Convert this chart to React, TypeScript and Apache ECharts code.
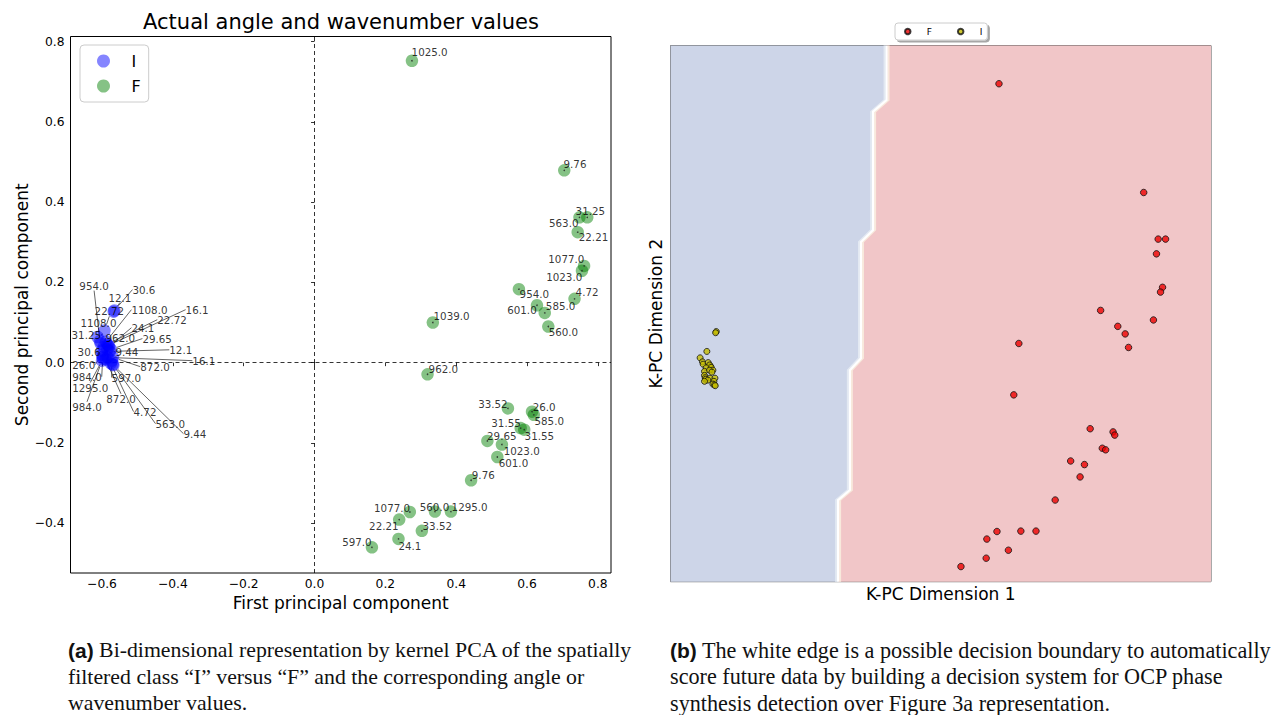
import React, { useEffect, useRef } from 'react';
import * as echarts from 'echarts';

// ---------- axis ticks / ranges ----------
const xTickValues = [-0.6, -0.4, -0.2, 0, 0.2, 0.4, 0.6, 0.8];
const yTickValues = [-0.4, -0.2, 0, 0.2, 0.4, 0.6, 0.8];
const leftXRange = [-0.689, 0.837];
const leftYRange = [-0.524, 0.8125];
const rightXRange = [-0.701, 0.905];
const rightYRange = [-0.498, 0.848];

// ---------- class "I" (angle / wavenumber labels) ----------
const iNames = ['30.6', '12.1', '22.72', '31.25', '954.0', '1108.0', '1108.0', '16.1', '22.72', '24.1', '962.0', '29.65', '30.6', '9.44', '12.1', '16.1', '872.0', '26.0', '984.0', '597.0', '1295.0', '872.0', '984.0', '4.72', '563.0', '9.44'];
const iX = [-0.565, -0.567, -0.593, -0.613, -0.606, -0.604, -0.589, -0.582, -0.585, -0.580, -0.595, -0.575, -0.600, -0.585, -0.578, -0.584, -0.569, -0.600, -0.598, -0.572, -0.597, -0.590, -0.600, -0.575, -0.570, -0.568];
const iY = [0.130, 0.127, 0.080, 0.064, 0.054, 0.048, 0.052, 0.043, 0.046, 0.040, 0.039, 0.033, 0.030, 0.033, 0.028, 0.013, 0.013, 0.020, 0.014, 0.005, 0.010, 0.008, 0.005, -0.002, -0.004, -0.006];
const iLabelX = [-0.514, -0.582, -0.621, -0.686, -0.664, -0.661, -0.517, -0.364, -0.444, -0.517, -0.590, -0.486, -0.669, -0.562, -0.410, -0.345, -0.492, -0.684, -0.684, -0.573, -0.684, -0.588, -0.684, -0.511, -0.449, -0.370];
const iLabelY = [0.182, 0.162, 0.128, 0.069, 0.192, 0.099, 0.132, 0.132, 0.107, 0.087, 0.062, 0.060, 0.027, 0.027, 0.032, 0.005, -0.010, -0.005, -0.035, -0.037, -0.062, -0.090, -0.110, -0.122, -0.152, -0.177];

// ---------- class "F" ----------
const fNames = ['1025.0', '9.76', '563.0', '31.25', '22.21', '1077.0', '1023.0', '954.0', '4.72', '601.0', '585.0', '560.0', '1039.0', '962.0', '33.52', '26.0', '585.0', '31.55', '31.55', '29.65', '1023.0', '601.0', '9.76', '1077.0', '560.0', '1295.0', '22.21', '33.52', '24.1', '597.0'];
const fX = [0.275, 0.705, 0.748, 0.770, 0.743, 0.761, 0.755, 0.577, 0.734, 0.628, 0.650, 0.660, 0.334, 0.319, 0.546, 0.614, 0.619, 0.582, 0.592, 0.488, 0.529, 0.516, 0.442, 0.269, 0.340, 0.385, 0.239, 0.303, 0.237, 0.162];
const fY = [0.752, 0.479, 0.362, 0.362, 0.325, 0.241, 0.229, 0.183, 0.159, 0.143, 0.124, 0.090, 0.100, -0.029, -0.114, -0.122, -0.130, -0.163, -0.167, -0.195, -0.204, -0.235, -0.293, -0.372, -0.371, -0.371, -0.391, -0.419, -0.439, -0.460];
const fLabelX = [0.274, 0.703, 0.662, 0.737, 0.746, 0.660, 0.654, 0.579, 0.737, 0.544, 0.653, 0.661, 0.336, 0.322, 0.462, 0.616, 0.621, 0.499, 0.593, 0.487, 0.534, 0.520, 0.444, 0.168, 0.297, 0.387, 0.154, 0.305, 0.237, 0.078];
const fLabelY = [0.773, 0.496, 0.349, 0.379, 0.312, 0.257, 0.214, 0.170, 0.175, 0.130, 0.140, 0.077, 0.115, -0.015, -0.102, -0.110, -0.145, -0.150, -0.182, -0.182, -0.219, -0.249, -0.279, -0.362, -0.359, -0.359, -0.406, -0.406, -0.456, -0.446];

// ---------- decision boundary (right panel) ----------
const boundaryX = [-0.059, -0.059, -0.099, -0.099, -0.135, -0.135, -0.168, -0.168, -0.203, -0.203];
const boundaryY = [0.848, 0.711, 0.682, 0.385, 0.355, 0.063, 0.033, -0.268, -0.293, -0.498];

// ---------- texts ----------
const titleText = 'Actual angle and wavenumber values';
const captionA = [
  '{b|(a)} Bi-dimensional representation by kernel PCA of the spatially',
  'filtered class \u201cI\u201d versus \u201cF\u201d and the corresponding angle or',
  'wavenumber values.',
];
const captionB = [
  '{b|(b)} The white edge is a possible decision boundary to automatically',
  'score future data by building a decision system for OCP phase',
  'synthesis detection over Figure 3a representation.',
];

const SANS = 'DejaVu Sans';

export default function App() {
  const ref = useRef<HTMLDivElement>(null);

  useEffect(() => {
    if (!ref.current) return;
    const chart = echarts.init(ref.current, null, { renderer: 'svg' });

    const toPx = (x: number, y: number) =>
      chart.convertToPixel({ gridIndex: 0 }, [x, y]) as number[];
    const fmt = (v: number) =>
      Math.abs(v) < 1e-9 ? '0.0' : v.toFixed(1).replace('-', '\u2212');

    const iData = iX.map((x, i) => [x, iY[i]]);
    const fData = fX.map((x, i) => [x, fY[i]]);

    const pointLabel = {
      show: true,
      fontFamily: SANS,
      fontSize: 10.3,
      color: '#000',
    };

    const captionGraphics: any[] = [];
    const capStyle = (text: string, x: number, y: number, size: number) => ({
      type: 'text',
      x,
      y,
      style: {
        text,
        fontFamily: 'Liberation Serif',
        fontSize: size,
        fill: '#111',
        verticalAlign: 'middle',
        rich: {
          b: {
            fontFamily: 'Liberation Sans',
            fontWeight: 'bold',
            fontSize: 21,
            fill: '#111',
          },
        },
      },
    });
    captionA.forEach((t, k) => captionGraphics.push(capStyle(t, 68, 650 + k * 26.5, 21.8)));
    captionB.forEach((t, k) => captionGraphics.push(capStyle(t, 670, 650 + k * 26.5, 22.2)));

    const option: any = {
      animation: false,
      backgroundColor: '#fff',
      grid: [
        {
          left: 70.5,
          top: 36.5,
          width: 540.5,
          height: 536.5,
          show: true,
          borderColor: '#000',
          borderWidth: 1,
          backgroundColor: '#fff',
        },
        {
          left: 670.5,
          top: 45.5,
          width: 540.5,
          height: 536.2,
          show: true,
          borderColor: '#555',
          borderWidth: 1,
        },
      ],
      xAxis: [
        {
          gridIndex: 0,
          type: 'value',
          min: leftXRange[0],
          max: leftXRange[1],
          name: 'First principal component',
          nameLocation: 'middle',
          nameGap: 20,
          nameTextStyle: { fontFamily: SANS, fontSize: 17, color: '#000' },
          axisLine: { show: false },
          splitLine: { show: false },
          axisTick: {
            show: true,
            customValues: xTickValues,
            length: 3.5,
            lineStyle: { color: '#000', width: 0.8 },
          },
          axisLabel: {
            customValues: xTickValues,
            formatter: fmt,
            fontFamily: SANS,
            fontSize: 12.3,
            color: '#000',
            margin: 5,
          },
        },
        {
          gridIndex: 1,
          type: 'value',
          min: rightXRange[0],
          max: rightXRange[1],
          name: 'K-PC Dimension 1',
          nameLocation: 'middle',
          nameGap: 4,
          nameTextStyle: { fontFamily: SANS, fontSize: 17, color: '#000', verticalAlign: 'top' },
          axisLine: { show: false },
          axisTick: { show: false },
          axisLabel: { show: false },
          splitLine: { show: false },
        },
      ],
      yAxis: [
        {
          gridIndex: 0,
          type: 'value',
          min: leftYRange[0],
          max: leftYRange[1],
          name: 'Second principal component',
          nameLocation: 'middle',
          nameGap: 35,
          nameTextStyle: { fontFamily: SANS, fontSize: 17, color: '#000' },
          axisLine: { show: false },
          splitLine: { show: false },
          axisTick: {
            show: true,
            customValues: yTickValues,
            length: 3.5,
            lineStyle: { color: '#000', width: 0.8 },
          },
          axisLabel: {
            customValues: yTickValues,
            formatter: fmt,
            fontFamily: SANS,
            fontSize: 12.3,
            color: '#000',
            margin: 6,
          },
        },
        {
          gridIndex: 1,
          type: 'value',
          min: rightYRange[0],
          max: rightYRange[1],
          name: 'K-PC Dimension 2',
          nameLocation: 'middle',
          nameGap: 6,
          nameTextStyle: { fontFamily: SANS, fontSize: 17, color: '#000' },
          axisLine: { show: false },
          axisTick: { show: false },
          axisLabel: { show: false },
          splitLine: { show: false },
        },
      ],
      legend: [
        {
          data: ['I', 'F'],
          left: 80,
          top: 45,
          orient: 'vertical',
          icon: 'circle',
          itemWidth: 40,
          itemHeight: 13,
          itemGap: 9,
          padding: [8, 8, 8, 17],
          borderColor: '#ccc',
          borderWidth: 1,
          borderRadius: 4,
          backgroundColor: 'rgba(255,255,255,0.85)',
          selectedMode: false,
          textStyle: { fontFamily: SANS, fontSize: 16, color: '#000', padding: [0, 0, 0, 3] },
        },
        {
          data: ['F (b)', 'I (b)'],
          formatter: (n: string) => n.charAt(0),
          left: 895,
          top: 23,
          orient: 'horizontal',
          icon: 'circle',
          itemWidth: 14,
          itemHeight: 5.5,
          itemGap: 25,
          padding: [4, 5, 4, 9],
          borderColor: '#ccc',
          borderWidth: 1,
          borderRadius: 3,
          backgroundColor: '#fff',
          shadowColor: 'rgba(0,0,0,0.35)',
          shadowBlur: 0,
          shadowOffsetX: 2,
          shadowOffsetY: 2,
          selectedMode: false,
          textStyle: { fontFamily: SANS, fontSize: 9, color: '#000', padding: [0, 0, 0, 7] },
        },
      ],
      graphic: [
        {
          type: 'text',
          x: 341,
          y: 22,
          style: {
            text: titleText,
            fontFamily: SANS,
            fontSize: 21,
            fill: '#000',
            align: 'center',
            verticalAlign: 'middle',
          },
        },
        ...captionGraphics,
      ],
      series: [
        {
          type: 'custom',
          name: 'regions',
          xAxisIndex: 1,
          yAxisIndex: 1,
          silent: true,
          z: 1,
          data: [[0, 0]],
          renderItem: (_p: any, api: any) => {
            const edge = boundaryX.map((x, i) => api.coord([x, boundaryY[i]]));
            const tl = api.coord([rightXRange[0], rightYRange[1]]);
            const bl = api.coord([rightXRange[0], rightYRange[0]]);
            const br = api.coord([rightXRange[1], rightYRange[0]]);
            const tr = api.coord([rightXRange[1], rightYRange[1]]);
            const shift = (d: number) => edge.map((p: number[]) => [p[0] + d, p[1]]);
            return {
              type: 'group',
              children: [
                { type: 'polygon', shape: { points: [tl, ...edge, bl] }, style: { fill: '#cdd5e8' } },
                { type: 'polygon', shape: { points: [...edge, br, tr] }, style: { fill: '#f1c6c8' } },
                { type: 'polyline', shape: { points: shift(-2) }, style: { stroke: '#e3e9f2', lineWidth: 2, fill: null } },
                { type: 'polyline', shape: { points: shift(2) }, style: { stroke: '#f8e9dc', lineWidth: 2, fill: null } },
                { type: 'polyline', shape: { points: edge }, style: { stroke: '#ffffff', lineWidth: 2.2, fill: null } },
              ],
            };
          },
        },
        {
          type: 'scatter',
          name: 'axes0',
          xAxisIndex: 0,
          yAxisIndex: 0,
          data: [],
          silent: true,
          markLine: {
            silent: true,
            symbol: 'none',
            z: 1,
            label: { show: false },
            lineStyle: { type: [4, 3], color: '#000', width: 0.8 },
            data: [{ xAxis: 0 }, { yAxis: 0 }],
          },
        },
        {
          type: 'scatter',
          name: 'I',
          xAxisIndex: 0,
          yAxisIndex: 0,
          z: 3,
          symbolSize: 12.5,
          itemStyle: { color: 'rgba(0,0,255,0.6)' },
          data: iData,
          label: { ...pointLabel, formatter: (p: any) => iNames[p.dataIndex] },
          labelLine: { show: true, lineStyle: { color: '#222', width: 0.7 } },
          labelLayout: (p: any) => {
            const px = toPx(iLabelX[p.dataIndex], iLabelY[p.dataIndex]);
            return { x: px[0], y: px[1], align: 'left', verticalAlign: 'middle', hideOverlap: false };
          },
        },
        {
          type: 'scatter',
          name: 'F',
          xAxisIndex: 0,
          yAxisIndex: 0,
          z: 3,
          symbolSize: 12.5,
          itemStyle: { color: 'rgba(0,128,0,0.6)' },
          data: fData,
          label: { ...pointLabel, formatter: (p: any) => fNames[p.dataIndex] },
          labelLine: { show: false },
          labelLayout: (p: any) => {
            const px = toPx(fLabelX[p.dataIndex], fLabelY[p.dataIndex]);
            return { x: px[0], y: px[1], align: 'left', verticalAlign: 'middle', hideOverlap: false };
          },
        },
        {
          type: 'scatter',
          name: 'centres',
          xAxisIndex: 0,
          yAxisIndex: 0,
          z: 4,
          silent: true,
          symbolSize: 1.6,
          itemStyle: { color: '#222' },
          data: fData,
        },
        {
          type: 'scatter',
          name: 'F (b)',
          xAxisIndex: 1,
          yAxisIndex: 1,
          z: 3,
          symbolSize: 6.5,
          itemStyle: { color: '#ee0000', borderColor: '#111', borderWidth: 1 },
          data: fData,
        },
        {
          type: 'scatter',
          name: 'I (b)',
          xAxisIndex: 1,
          yAxisIndex: 1,
          z: 3,
          symbolSize: 6,
          itemStyle: { color: '#c4bc00', borderColor: '#111', borderWidth: 1 },
          data: iData,
        },
      ],
    };

    chart.setOption(option);
    return () => chart.dispose();
  }, []);

  return (
    <div
      ref={ref}
      style={{ position: 'absolute', left: 0, top: 0, width: 1286, height: 715, background: '#fff' }}
    />
  );
}
